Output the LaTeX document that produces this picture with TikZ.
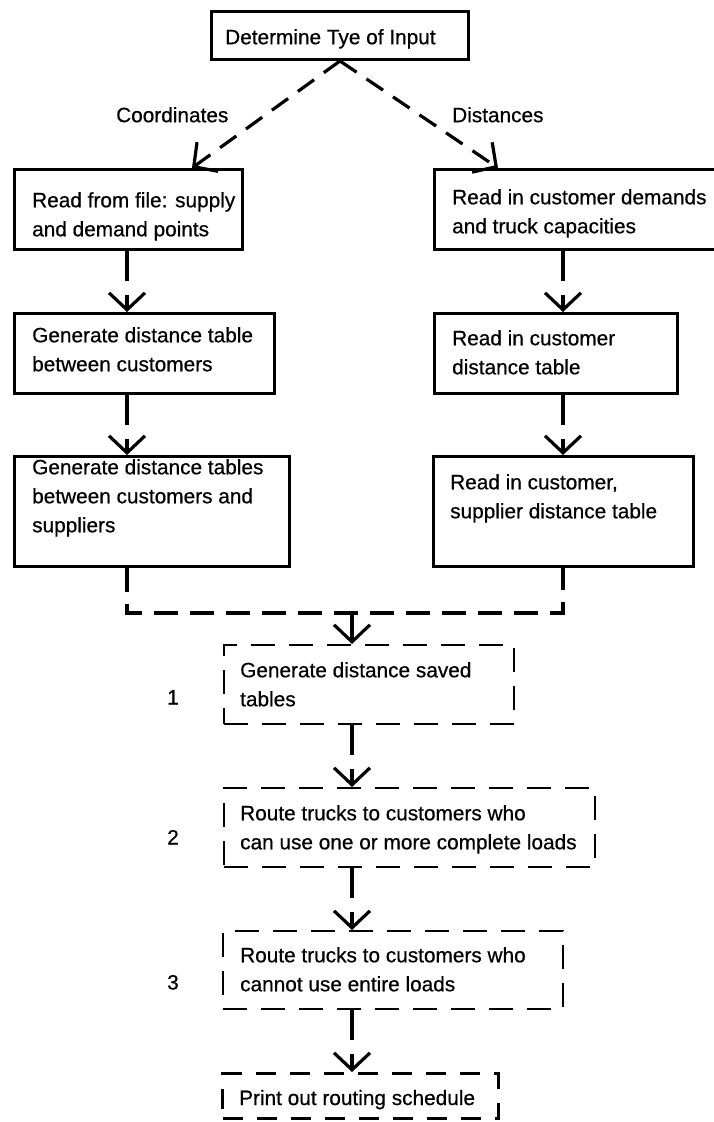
\documentclass[tikz,border=0pt]{standalone}
\usepackage{fontspec}
\setmainfont{Liberation Sans}[BoldFont=Liberation Sans, BoldFeatures={FakeBold=0.6}]
\usetikzlibrary{arrows.meta}

\begin{document}
\begin{tikzpicture}[x=1pt,y=-1pt,
  solidbox/.style={draw, line width=3pt, inner sep=0pt, anchor=north west},
  dashbox/.style={draw, line width=2pt, dash pattern=on 24pt off 14pt, inner sep=0pt, anchor=north west},
  heavydashbox/.style={draw, line width=3pt, dash pattern=on 20pt off 14pt, inner sep=0pt, anchor=north west},
  lbl/.style={inner sep=0pt, anchor=north west, align=left,
    font=\fontsize{20.8}{29}\selectfont\bfseries, execute at begin node=\strut},
  num/.style={inner sep=0pt, anchor=north, font=\fontsize{20.8}{29}\selectfont\bfseries, execute at begin node=\strut},
  conn/.style={line width=3.2pt},
  barb/.style={-{Straight Barb[length=17pt,width=36pt]}},
  vlink/.style={conn, barb, dash pattern=on 30pt off 14pt on 80pt},
  slant/.style={conn, barb, dash pattern=on 20pt off 12pt},
  merge/.style={conn, dash pattern=on 24pt off 12pt},
]
\useasboundingbox (0,0) rectangle (714,1122);

% column positions of the connectors
\coordinate (lcol) at (127,0);
\coordinate (rcol) at (563,0);
\coordinate (ccol) at (352,0);
\coordinate (ltop) at (192,0);
\coordinate (rtop) at (498,0);
\coordinate (mrg)  at (352,613);

% input choice
\node[solidbox, minimum width=257pt, minimum height=48pt] (T) at (210,10) {};
\node[lbl] (Tt) at (225,23.7) {Determine Tye of Input};
\node[lbl] (coordlbl) at (116,101.7) {Coordinates};
\node[lbl] (distlbl) at (452,101.7) {Distances};

% coordinate branch
\node[solidbox, minimum width=228pt, minimum height=80pt] (L1) at (13,168) {};
\node[lbl] (L1t) at (32,192) {Read from file: supply\\and demand points};
\node[solidbox, minimum width=260pt, minimum height=80pt] (L2) at (13,312) {};
\node[lbl] (L2t) at (32,327) {Generate distance table\\between customers};
\node[solidbox, minimum width=275pt, minimum height=110pt] (L3) at (13,455) {};
\node[lbl] (L3t) at (32,459) {Generate distance tables\\between customers and\\suppliers};

% distance branch
\node[solidbox, minimum width=285pt, minimum height=80pt] (R1) at (433,168) {};
\node[lbl] (R1t) at (452,189) {Read in customer demands\\and truck capacities};
\node[solidbox, minimum width=243pt, minimum height=80pt] (R2) at (433,312) {};
\node[lbl] (R2t) at (452,330) {Read in customer\\distance table};
\node[solidbox, minimum width=260pt, minimum height=110pt] (R3) at (432,455) {};
\node[lbl] (R3t) at (450,474) {Read in customer,\\supplier distance table};

% common steps
\node[dashbox, minimum width=290pt, minimum height=79pt] (B1) at (223,644) {};
\node[lbl] (B1t) at (240,662) {Generate distance saved\\tables};
\node[num] (n1) at (173,684) {1};

\node[dashbox, minimum width=371pt, minimum height=79pt] (B2) at (223,787) {};
\node[lbl] (B2t) at (240,805) {Route trucks to customers who\\can use one or more complete loads};
\node[num] (n2) at (173,824) {2};

\node[dashbox, minimum width=340pt, minimum height=78pt] (B3) at (222,930) {};
\node[lbl] (B3t) at (240,947) {Route trucks to customers who\\cannot use entire loads};
\node[num] (n3) at (173,969) {3};

\node[heavydashbox, minimum width=276pt, minimum height=45pt] (B4) at (221,1072) {};
\node[lbl] (B4t) at (239,1084.5) {Print out routing schedule};

% connectors
\draw[slant] (T.south) -- (L1.north -| ltop);
\draw[slant] (T.south) -- (R1.north -| rtop);

\draw[vlink] (L1.south -| lcol) -- (L2.north -| lcol);
\draw[vlink] (L2.south -| lcol) -- (L3.north -| lcol);
\draw[vlink] (R1.south -| rcol) -- (R2.north -| rcol);
\draw[vlink] (R2.south -| rcol) -- (R3.north -| rcol);

\draw[merge] (L3.south -| lcol) |- (mrg) -| (R3.south -| rcol);
\draw[conn, barb] (mrg) -- (B1.north -| ccol);

\draw[vlink] (B1.south -| ccol) -- (B2.north -| ccol);
\draw[vlink] (B2.south -| ccol) -- (B3.north -| ccol);
\draw[vlink] (B3.south -| ccol) -- (B4.north -| ccol);
\end{tikzpicture}
\end{document}
